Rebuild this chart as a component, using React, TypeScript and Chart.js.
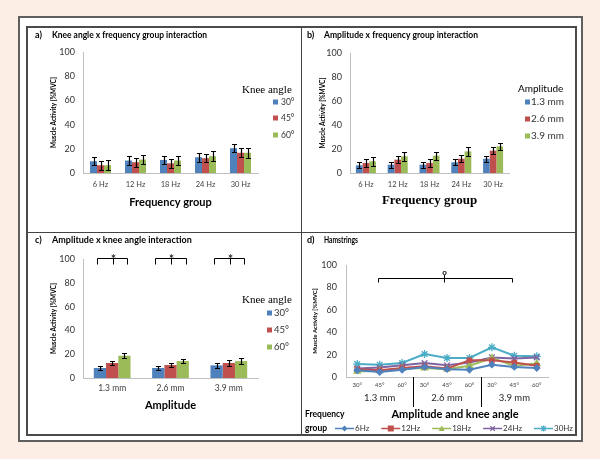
import React, { useEffect, useRef } from 'react';
import { Chart, registerables } from 'chart.js';

Chart.register(...registerables);

const SANS = 'Lato, "Liberation Sans", sans-serif';
const SERIF = '"Liberation Serif", "DejaVu Serif", serif';
Chart.defaults.font.family = SANS;

// ---------- data ----------
const freqGroups = ['6 Hz', '12 Hz', '18 Hz', '24 Hz', '30 Hz'];
const kneeAngles = ['30°', '45°', '60°'];
const amplitudes = ['1.3 mm', '2.6 mm', '3.9 mm'];
const freqLegend = ['6Hz', '12Hz', '18Hz', '24Hz', '30Hz'];
const dAngleLabels = ['30°', '45°', '60°', '30°', '45°', '60°', '30°', '45°', '60°'];

// a) knee angle x frequency group
const aKnee30 = [9.7, 10.3, 10.8, 13, 20.5];
const aKnee45 = [6.4, 8.9, 8, 12.2, 16.7];
const aKnee60 = [6.4, 11.1, 10.3, 13.9, 16.7];
const aKnee30Err = [3.3, 3.6, 3.6, 3.6, 3.3];
const aKnee45Err = [3.9, 3.6, 3.9, 3.5, 3.7];
const aKnee60Err = [4.3, 3.9, 3.6, 4, 4];

// b) amplitude x frequency group
const bAmp13 = [6.4, 6.9, 6.9, 8.9, 11.9];
const bAmp26 = [8.3, 11.1, 8.3, 11.9, 18.6];
const bAmp39 = [9.7, 13.9, 14.4, 18, 22.2];
const bAmp13Err = [2.5, 2.5, 2.5, 2.5, 2.5];
const bAmp26Err = [3, 2.8, 3, 3, 2.8];
const bAmp39Err = [3.5, 3.5, 3.5, 3.9, 3.2];

// c) amplitude x knee angle
const cKnee30 = [8.4, 8.4, 10.6];
const cKnee45 = [12.6, 10.9, 12.6];
const cKnee60 = [18.7, 14.2, 14.2];
const cKnee30Err = [1.8, 1.5, 1.8];
const cKnee45Err = [1.5, 1.8, 2.4];
const cKnee60Err = [2.2, 1.8, 2.2];

// d) hamstrings
const dHz6 = [6, 4.5, 6.5, 9, 7, 6.5, 11, 9, 8];
const dHz12 = [7, 6, 8, 9.5, 7.5, 15, 15, 13, 10];
const dHz18 = [5, 5.5, 7.5, 8, 7, 10, 17, 10, 12];
const dHz24 = [7.5, 8.5, 10.5, 12.5, 10.5, 13, 17.5, 16.5, 17.5];
const dHz30 = [11.5, 11, 12.5, 20.5, 17, 17, 26.5, 19, 18.5];

const BLUE = '#4F81BD';
const RED = '#C0504D';
const GREEN = '#9BBB59';
const PURPLE = '#8064A2';
const CYAN = '#4BACC6';

// ---------- helpers ----------
function yAxis(width: number, titleTop: number, tickPad: number, titleSize = 6.5) {
  return {
    min: 0,
    max: 100,
    ticks: { stepSize: 20, padding: tickPad, color: '#333', font: { family: SANS, size: 9 } },
    grid: { display: false, drawTicks: false },
    border: { display: true, color: '#bfbfbf', width: 1 },
    title: {
      display: true,
      text: 'Muscle Activity [%MVC]',
      color: '#000',
      font: { family: SANS, size: titleSize, weight: 'bold' },
      padding: { top: titleTop, bottom: 0 },
    },
    afterFit: (s: any) => {
      s.width = width;
    },
  };
}

function xAxis(height: number, tickPad: number, tickSize: number, title: string | null, titleFont: any, titleBottom: number) {
  return {
    offset: true,
    ticks: { padding: tickPad, color: '#404040', font: { family: SANS, size: tickSize }, autoSkip: false, maxRotation: 0 },
    grid: { display: false, drawTicks: false },
    border: { display: true, color: '#bfbfbf', width: 1 },
    title: title
      ? { display: true, text: title, color: '#000', font: titleFont, padding: { top: 0, bottom: titleBottom } }
      : { display: false },
    afterFit: (s: any) => {
      s.height = height;
    },
  };
}

type TextItem = { text: string; x: number; y: number; font: string; align?: CanvasTextAlign; width?: number; color?: string };

function textsPlugin(items: TextItem[]) {
  return {
    id: 'panelTexts',
    afterDraw(chart: any) {
      const ctx = chart.ctx;
      ctx.save();
      items.forEach((t) => {
        ctx.font = t.font;
        ctx.fillStyle = t.color || '#000';
        ctx.textAlign = t.align || 'left';
        ctx.textBaseline = 'middle';
        if (t.width) ctx.fillText(t.text, t.x, t.y, t.width);
        else ctx.fillText(t.text, t.x, t.y);
      });
      ctx.restore();
    },
  };
}

function boxLegend(cfg: { title: string; titleFont: string; titleX: number; titleY: number; boxX: number; textX: number; ys: number[]; font: string; box: number }) {
  return {
    id: 'boxLegend',
    afterDraw(chart: any) {
      const ctx = chart.ctx;
      ctx.save();
      ctx.textBaseline = 'middle';
      ctx.textAlign = 'left';
      ctx.font = cfg.titleFont;
      ctx.fillStyle = '#000';
      ctx.fillText(cfg.title, cfg.titleX, cfg.titleY);
      chart.data.datasets.forEach((ds: any, i: number) => {
        const y = cfg.ys[i];
        ctx.fillStyle = ds.backgroundColor;
        ctx.fillRect(cfg.boxX, y - cfg.box / 2, cfg.box, cfg.box);
        ctx.fillStyle = '#333';
        ctx.font = cfg.font;
        ctx.fillText(ds.label, cfg.textX, y);
      });
      ctx.restore();
    },
  };
}

const errorBars = {
  id: 'errorBars',
  afterDatasetsDraw(chart: any) {
    const ctx = chart.ctx;
    const ys = chart.scales.y;
    chart.data.datasets.forEach((ds: any, i: number) => {
      if (!ds.errors) return;
      const meta = chart.getDatasetMeta(i);
      meta.data.forEach((bar: any, j: number) => {
        const v = ds.data[j];
        const e = ds.errors[j];
        const x = Math.round(bar.x) + 0.5;
        const t = Math.round(ys.getPixelForValue(v + e)) + 0.5;
        const b = Math.round(ys.getPixelForValue(v - e)) + 0.5;
        ctx.save();
        ctx.strokeStyle = '#000';
        ctx.lineWidth = 1.2;
        ctx.beginPath();
        ctx.moveTo(x, t);
        ctx.lineTo(x, b);
        ctx.moveTo(x - 2.5, t);
        ctx.lineTo(x + 2.5, t);
        ctx.moveTo(x - 2.5, b);
        ctx.lineTo(x + 2.5, b);
        ctx.stroke();
        ctx.restore();
      });
    });
  },
};

// significance brackets for panel c
const cBrackets = {
  id: 'cBrackets',
  afterDraw(chart: any) {
    const ctx = chart.ctx;
    const ys = chart.scales.y;
    const m0 = chart.getDatasetMeta(0);
    const m2 = chart.getDatasetMeta(2);
    const yTop = Math.round(ys.getPixelForValue(101)) + 0.5;
    const yEnd = Math.round(ys.getPixelForValue(96)) + 0.5;
    ctx.save();
    ctx.strokeStyle = '#000';
    ctx.lineWidth = 1;
    m0.data.forEach((bar: any, i: number) => {
      const x1 = Math.round(bar.x) - 2.5;
      const x2 = Math.round(m2.data[i].x) + 3.5;
      const xm = Math.round((x1 + x2) / 2) + 0.5;
      ctx.beginPath();
      ctx.moveTo(x1, yEnd);
      ctx.lineTo(x1, yTop);
      ctx.lineTo(x2, yTop);
      ctx.lineTo(x2, yEnd);
      ctx.moveTo(xm, yTop);
      ctx.lineTo(xm, yEnd);
      ctx.stroke();
      ctx.fillStyle = '#000';
      ctx.font = `13px ${SANS}`;
      ctx.textAlign = 'center';
      ctx.textBaseline = 'middle';
      ctx.fillText('*', xm, yTop + 1);
    });
    ctx.restore();
  },
};

function drawMarker(ctx: CanvasRenderingContext2D, style: string, x: number, y: number, r: number, color: string) {
  ctx.save();
  ctx.fillStyle = color;
  ctx.strokeStyle = color;
  ctx.lineWidth = 1.2;
  ctx.beginPath();
  if (style === 'rectRot') {
    ctx.moveTo(x, y - r);
    ctx.lineTo(x + r, y);
    ctx.lineTo(x, y + r);
    ctx.lineTo(x - r, y);
    ctx.closePath();
    ctx.fill();
  } else if (style === 'rect') {
    ctx.rect(x - r, y - r, 2 * r, 2 * r);
    ctx.fill();
  } else if (style === 'triangle') {
    ctx.moveTo(x, y - r);
    ctx.lineTo(x + r, y + r * 0.8);
    ctx.lineTo(x - r, y + r * 0.8);
    ctx.closePath();
    ctx.fill();
  } else {
    const d = r * 0.75;
    ctx.moveTo(x - d, y - d);
    ctx.lineTo(x + d, y + d);
    ctx.moveTo(x + d, y - d);
    ctx.lineTo(x - d, y + d);
    if (style === 'star') {
      ctx.moveTo(x, y - r);
      ctx.lineTo(x, y + r);
      ctx.moveTo(x - r, y);
      ctx.lineTo(x + r, y);
    }
    ctx.stroke();
  }
  ctx.restore();
}

// panel d: group labels, separators, bracket and bottom legend
const dAnnotations = {
  id: 'dAnnotations',
  afterDraw(chart: any) {
    const ctx = chart.ctx;
    const xs = chart.scales.x;
    const ys = chart.scales.y;
    const area = chart.chartArea;
    ctx.save();
    ctx.strokeStyle = '#000';
    ctx.lineWidth = 1;
    [2.5, 5.5].forEach((v) => {
      const px = Math.round(xs.getPixelForValue(v)) + 0.5;
      ctx.beginPath();
      ctx.moveTo(px, area.bottom);
      ctx.lineTo(px, area.bottom + 30);
      ctx.stroke();
    });
    ctx.fillStyle = '#262626';
    ctx.font = `9.5px ${SANS}`;
    ctx.textAlign = 'center';
    ctx.textBaseline = 'middle';
    amplitudes.forEach((a, i) => {
      ctx.fillText(a, xs.getPixelForValue(1 + 3 * i), 165);
    });
    // bracket
    const x1 = Math.round(xs.getPixelForValue(1)) - 1.5;
    const x2 = Math.round(xs.getPixelForValue(7)) - 1.5;
    const xm = Math.round(xs.getPixelForValue(4)) - 2.5;
    const yb = Math.round(ys.getPixelForValue(88)) + 0.5;
    const ye = Math.round(ys.getPixelForValue(84.5)) + 0.5;
    ctx.beginPath();
    ctx.moveTo(x1, ye);
    ctx.lineTo(x1, yb);
    ctx.lineTo(x2, yb);
    ctx.lineTo(x2, ye);
    ctx.moveTo(xm, ys.getPixelForValue(91));
    ctx.lineTo(xm, ye);
    ctx.stroke();
    ctx.fillStyle = '#000';
    ctx.font = `bold 8px ${SANS}`;
    ctx.fillText('o', xm, ys.getPixelForValue(93.5));
    // legend
    ctx.textAlign = 'left';
    ctx.font = `bold 8.5px ${SANS}`;
    ctx.fillText('Frequency', 3, 181);
    ctx.fillText('group', 3, 195);
    ctx.font = `8px ${SANS}`;
    let lx = 33;
    const ly = 195.5;
    chart.data.datasets.forEach((ds: any) => {
      ctx.strokeStyle = ds.borderColor;
      ctx.lineWidth = 1.5;
      ctx.beginPath();
      ctx.moveTo(lx, ly);
      ctx.lineTo(lx + 19, ly);
      ctx.stroke();
      drawMarker(ctx, ds.pointStyle, lx + 9.5, ly, 3, ds.borderColor);
      ctx.fillStyle = '#333';
      ctx.fillText(ds.label, lx + 20, ly);
      lx += 20 + ctx.measureText(ds.label).width + 12;
    });
    ctx.restore();
  },
};

const baseOptions = {
  responsive: false,
  animation: false,
  plugins: { legend: { display: false }, tooltip: { enabled: false } },
};

function barSet(label: string, data: number[], errors: number[], color: string, cat: number) {
  return { label, data, errors, backgroundColor: color, categoryPercentage: cat, barPercentage: 1 } as any;
}

function lineSet(label: string, data: number[], color: string, style: string, r: number) {
  return {
    label,
    data,
    borderColor: color,
    backgroundColor: color,
    borderWidth: 2,
    pointStyle: style,
    pointRadius: r,
    pointBorderWidth: 1.3,
    tension: 0,
  } as any;
}

function configA(): any {
  return {
    type: 'bar',
    data: {
      labels: freqGroups,
      datasets: [
        barSet(kneeAngles[0], aKnee30, aKnee30Err, BLUE, 0.6),
        barSet(kneeAngles[1], aKnee45, aKnee45Err, RED, 0.6),
        barSet(kneeAngles[2], aKnee60, aKnee60Err, GREEN, 0.6),
      ],
    },
    options: {
      ...baseOptions,
      layout: { padding: { left: 0, top: 24, right: 43, bottom: 0 } },
      scales: {
        x: xAxis(59, 7.5, 7.5, 'Frequency group', { family: SANS, size: 11, weight: 'bold' }, 23),
        y: yAxis(55, 22, 8),
      },
    },
    plugins: [
      errorBars,
      textsPlugin([
        { text: 'a)', x: 7, y: 7, font: `bold 9px ${SANS}` },
        { text: 'Knee angle x frequency group interaction', x: 24, y: 7, font: `bold 9px ${SANS}`, width: 155 },
      ]),
      boxLegend({ title: 'Knee angle', titleFont: `11px ${SERIF}`, titleX: 214, titleY: 62, boxX: 245, textX: 253, ys: [74, 90, 107], font: `8.5px ${SANS}`, box: 5 }),
    ],
  };
}

function configB(): any {
  return {
    type: 'bar',
    data: {
      labels: freqGroups,
      datasets: [
        barSet(amplitudes[0], bAmp13, bAmp13Err, BLUE, 0.63),
        barSet(amplitudes[1], bAmp26, bAmp26Err, RED, 0.63),
        barSet(amplitudes[2], bAmp39, bAmp39Err, GREEN, 0.63),
      ],
    },
    options: {
      ...baseOptions,
      layout: { padding: { left: 0, top: 25, right: 66, bottom: 0 } },
      scales: {
        x: xAxis(59, 7.5, 7.5, 'Frequency group', { family: SERIF, size: 13, weight: 'bold' }, 24),
        y: yAxis(48, 17, 8),
      },
    },
    plugins: [
      errorBars,
      textsPlugin([
        { text: 'b)', x: 5, y: 7, font: `bold 9px ${SANS}` },
        { text: 'Amplitude x frequency group interaction', x: 22, y: 7, font: `bold 9px ${SANS}`, width: 154 },
      ]),
      boxLegend({ title: 'Amplitude', titleFont: `10px ${SANS}`, titleX: 216, titleY: 61, boxX: 223, textX: 229, ys: [74, 91, 108], font: `10px ${SANS}`, box: 5 }),
    ],
  };
}

function configC(): any {
  return {
    type: 'bar',
    data: {
      labels: amplitudes,
      datasets: [
        barSet(kneeAngles[0], cKnee30, cKnee30Err, BLUE, 0.63),
        barSet(kneeAngles[1], cKnee45, cKnee45Err, RED, 0.63),
        barSet(kneeAngles[2], cKnee60, cKnee60Err, GREEN, 0.63),
      ],
    },
    options: {
      ...baseOptions,
      layout: { padding: { left: 0, top: 26, right: 43, bottom: 0 } },
      scales: {
        x: xAxis(56, 5, 8.5, 'Amplitude', { family: SANS, size: 11, weight: 'bold' }, 22),
        y: yAxis(55, 22, 8),
      },
    },
    plugins: [
      errorBars,
      cBrackets,
      textsPlugin([
        { text: 'c)', x: 7, y: 7, font: `bold 9px ${SANS}` },
        { text: 'Amplitude x knee angle interaction', x: 24, y: 7, font: `bold 9px ${SANS}`, width: 141 },
      ]),
      boxLegend({ title: 'Knee angle', titleFont: `11px ${SERIF}`, titleX: 214, titleY: 67, boxX: 239, textX: 246, ys: [80, 97, 114], font: `9.5px ${SANS}`, box: 5 }),
    ],
  };
}

function configD(): any {
  return {
    type: 'line',
    data: {
      labels: dAngleLabels,
      datasets: [
        lineSet(freqLegend[0], dHz6, BLUE, 'rectRot', 3),
        lineSet(freqLegend[1], dHz12, RED, 'rect', 3),
        lineSet(freqLegend[2], dHz18, GREEN, 'triangle', 3.5),
        lineSet(freqLegend[3], dHz24, PURPLE, 'crossRot', 4),
        lineSet(freqLegend[4], dHz30, CYAN, 'star', 4),
      ],
    },
    options: {
      ...baseOptions,
      layout: { padding: { left: 0, top: 32, right: 27, bottom: 0 } },
      scales: {
        x: xAxis(57, 4.4, 6, null, null, 0),
        y: yAxis(44, 9, 9, 6),
      },
    },
    plugins: [
      dAnnotations,
      textsPlugin([
        { text: 'd)', x: 5, y: 7, font: `bold 9px ${SANS}` },
        { text: 'Hamstrings', x: 22, y: 7, font: `bold 9px ${SANS}`, width: 34 },
        { text: 'Amplitude and knee angle', x: 153, y: 181, font: `bold 11px ${SANS}`, align: 'center' },
      ]),
    ],
  };
}

export default function App() {
  const ra = useRef<HTMLCanvasElement>(null);
  const rb = useRef<HTMLCanvasElement>(null);
  const rc = useRef<HTMLCanvasElement>(null);
  const rd = useRef<HTMLCanvasElement>(null);

  useEffect(() => {
    const charts = [
      new Chart(ra.current as HTMLCanvasElement, configA()),
      new Chart(rb.current as HTMLCanvasElement, configB()),
      new Chart(rc.current as HTMLCanvasElement, configC()),
      new Chart(rd.current as HTMLCanvasElement, configD()),
    ];
    return () => charts.forEach((c) => c.destroy());
  }, []);

  const abs = (l: number, t: number): React.CSSProperties => ({ position: 'absolute', left: l, top: t });

  return (
    <div style={{ position: 'fixed', left: 0, top: 0, width: 600, height: 459, background: '#fdeee5', overflow: 'hidden' }}>
      <div style={{ ...abs(18, 16), width: 565, height: 426, boxSizing: 'border-box', border: '2px solid #5f5f5f', background: '#fff' }} />
      <div style={{ ...abs(26, 26), width: 551, height: 410, boxSizing: 'border-box', border: '2px solid #4a4a4a' }} />
      <div style={{ ...abs(301, 27), width: 1, height: 408, background: '#444' }} />
      <div style={{ ...abs(27, 232), width: 549, height: 1, background: '#444' }} />
      <canvas ref={ra} width={273} height={204} style={abs(28, 28)} />
      <canvas ref={rb} width={273} height={204} style={abs(302, 28)} />
      <canvas ref={rc} width={273} height={201} style={abs(28, 233)} />
      <canvas ref={rd} width={273} height={201} style={abs(302, 233)} />
    </div>
  );
}
